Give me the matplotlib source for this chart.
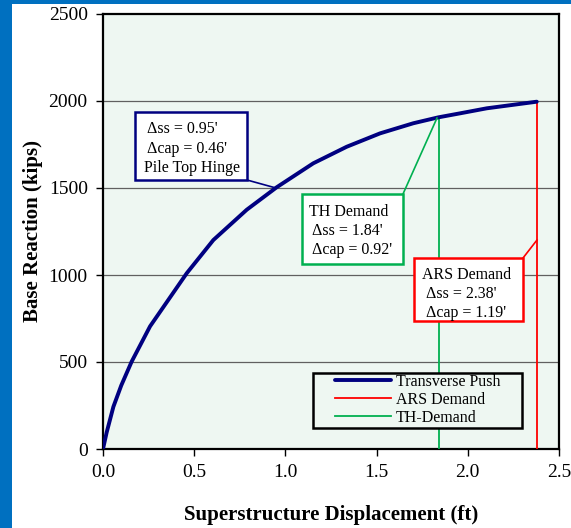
import matplotlib
matplotlib.use("Agg")
import matplotlib.pyplot as plt
import matplotlib.patches as patches

# =========================
# DATA
# =========================
push_disp = [0.0, 0.02, 0.057, 0.10, 0.157, 0.258, 0.459, 0.605, 0.788, 0.952,
             1.153, 1.336, 1.519, 1.701, 1.838, 1.957, 2.104, 2.378]
push_force = [0, 95, 243, 365, 502, 705, 1010, 1201, 1375, 1504,
              1642, 1737, 1814, 1872, 1906, 1929, 1958, 1996]

ars_disp = 2.38
ars_force = 1996
th_disp = 1.84
th_force = 1906

x_ticks = [0.0, 0.5, 1.0, 1.5, 2.0, 2.5]
y_ticks = [0, 500, 1000, 1500, 2000, 2500]

# =========================
# COLORS
# =========================
PUSH_COLOR = "#000080"
ARS_COLOR = "#FF0000"
TH_COLOR = "#00B050"
PLOT_BG = "#EEF7F2"
FRAME_BLUE = "#0070C0"

plt.rcParams['font.family'] = ['Liberation Serif', 'DejaVu Serif']

W, H = 571, 528
fig = plt.figure(figsize=(W / 100, H / 100), dpi=100, facecolor='white')

# blue slide strips
fig.patches.append(patches.Rectangle((0, 0), 12 / W, 1, transform=fig.transFigure,
                                     facecolor=FRAME_BLUE, edgecolor='none', zorder=0))
fig.patches.append(patches.Rectangle((0, 1 - 4 / H), 1, 4 / H, transform=fig.transFigure,
                                     facecolor=FRAME_BLUE, edgecolor='none', zorder=0))

ax = fig.add_axes([103 / W, 79 / H, 456 / W, 435 / H])
ax.set_facecolor(PLOT_BG)
ax.set_xlim(0, 2.5)
ax.set_ylim(0, 2500)
ax.set_xticks(x_ticks)
ax.set_xticklabels([f"{v:.1f}" for v in x_ticks])
ax.set_yticks(y_ticks)
ax.tick_params(direction='out', length=5, width=1, labelsize=14, pad=6)
for s in ax.spines.values():
    s.set_linewidth(1.6)

for yv in y_ticks[1:-1]:
    ax.axhline(yv, color='#606060', linewidth=0.9, zorder=1)

ax.plot(push_disp, push_force, color=PUSH_COLOR, linewidth=2.8,
        label="Transverse Push", zorder=4, solid_capstyle='round', solid_joinstyle='round')
ax.plot([ars_disp, ars_disp], [0, ars_force], color=ARS_COLOR, linewidth=1.3,
        label="ARS Demand", zorder=3)
ax.plot([th_disp, th_disp], [0, th_force], color=TH_COLOR, linewidth=1.3,
        label="TH-Demand", zorder=3)

ax.set_xlabel("Superstructure Displacement (ft)", fontsize=15, fontweight='bold', labelpad=17)
ax.set_ylabel("Base Reaction (kips)", fontsize=15, fontweight='bold', labelpad=4)


def px(x, y):
    """pixel position on the figure -> data coords"""
    return (x - 103) / 456 * 2.5, (449 - y) / 435 * 2500


def note_box(x0, y0, x1, y1, color, lines, lead_from, lead_to):
    (dx0, dy0), (dx1, dy1) = px(x0, y0), px(x1, y1)
    ax.add_patch(patches.Rectangle((dx0, dy1), dx1 - dx0, dy0 - dy1, facecolor='white',
                                   edgecolor=color, linewidth=1.8, zorder=6))
    a, b = px(*lead_from), px(*lead_to)
    ax.plot([a[0], b[0]], [a[1], b[1]], color=color, linewidth=1.2, zorder=5)
    for (tx, ty, t) in lines:
        lx, ly = px(tx, ty)
        ax.text(lx, ly, t, fontsize=11.5, ha='left', va='center', zorder=7)


note_box(135, 112, 247, 180, PUSH_COLOR,
         [(147, 129, "\u0394ss = 0.95'"), (147, 149, "\u0394cap = 0.46'"), (144, 168, "Pile Top Hinge")],
         (247, 180), (276, 188))
note_box(302, 194, 403, 264, TH_COLOR,
         [(309, 212, "TH Demand"), (312, 231, "\u0394ss = 1.84'"), (312, 250, "\u0394cap = 0.92'")],
         (403, 194), (437, 118))
note_box(414, 258, 523, 321, ARS_COLOR,
         [(422, 275, "ARS Demand"), (426, 294, "\u0394ss = 2.38'"), (426, 313, "\u0394cap = 1.19'")],
         (523, 258), (537, 240))

# legend frame drawn by hand, legend entries placed inside it
lx0, ly0 = (313 - 103) / 456, (449 - 428) / 435
lx1, ly1 = (522 - 103) / 456, (449 - 373) / 435
ax.add_patch(patches.Rectangle((lx0, ly0), lx1 - lx0, ly1 - ly0, transform=ax.transAxes,
                               facecolor=PLOT_BG, edgecolor='black', linewidth=1.8, zorder=8))
leg = ax.legend(loc='upper left', bbox_to_anchor=((335 - 103) / 456, (449 - 374) / 435),
                fontsize=11.5, frameon=False, handlelength=3.5,
                borderpad=0, labelspacing=0.12, handletextpad=0.3, borderaxespad=0)
leg.set_zorder(9)

plt.savefig("out.png", dpi=100, facecolor='white')
